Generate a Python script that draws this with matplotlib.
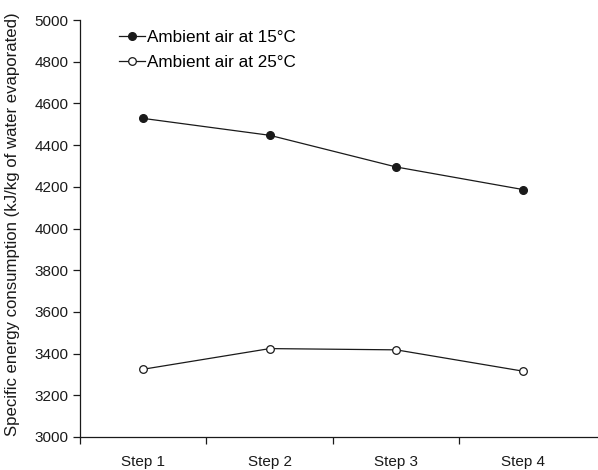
import matplotlib.pyplot as plt

steps = ["Step 1", "Step 2", "Step 3", "Step 4"]
air_15 = [4528, 4447, 4295, 4187]   # ambient air at 15°C
air_25 = [3325, 3424, 3418, 3316]   # ambient air at 25°C

plt.rcParams['font.family'] = ['Liberation Sans', 'DejaVu Sans']

fig = plt.figure(figsize=(5.98, 4.70), dpi=100)
ax = fig.add_axes([80 / 598, 33 / 470, 518 / 598, 417 / 470])

x = range(1, len(steps) + 1)
ax.plot(x, air_15, color='#1a1a1a', lw=0.9, marker='o', ms=5.5,
        mfc='#1a1a1a', mec='#1a1a1a', label='Ambient air at 15°C')
ax.plot(x, air_25, color='#1a1a1a', lw=0.9, marker='o', ms=5.5,
        mfc='white', mec='#1a1a1a', mew=0.9, label='Ambient air at 25°C')

ax.set_ylim(3000, 5000)
ax.set_yticks(range(3000, 5001, 200))
ax.set_xlim(0.5, 0.5 + 518 / 126.5)

# ticks at category boundaries, labels at category centres
ax.set_xticks([0.5, 1.5, 2.5, 3.5])
ax.set_xticklabels([])
ax.set_xticks(list(x), minor=True)
ax.set_xticklabels(steps, minor=True)
ax.tick_params(axis='x', which='minor', length=0, pad=13)
ax.tick_params(axis='both', which='major', direction='out', length=5,
               width=0.9, color='#1a1a1a', labelsize=11, labelcolor='#1a1a1a')
ax.tick_params(axis='x', which='minor', labelsize=11, labelcolor='#1a1a1a')

for s in ['top', 'right']:
    ax.spines[s].set_visible(False)
for s in ['left', 'bottom']:
    ax.spines[s].set_linewidth(0.9)
    ax.spines[s].set_color('#1a1a1a')

ax.set_ylabel("Specific energy consumption (kJ/kg of water evaporated)",
              fontsize=12.1, color='#1a1a1a', labelpad=2)
ax.yaxis.set_label_coords(-0.115, 0.51)

ax.legend(loc='upper left', bbox_to_anchor=(0.053, 1.004), frameon=False,
          fontsize=12.3, handlelength=1.5, handletextpad=0.12,
          labelspacing=0.56, borderpad=0.2)

fig.savefig('out.png', dpi=100)
